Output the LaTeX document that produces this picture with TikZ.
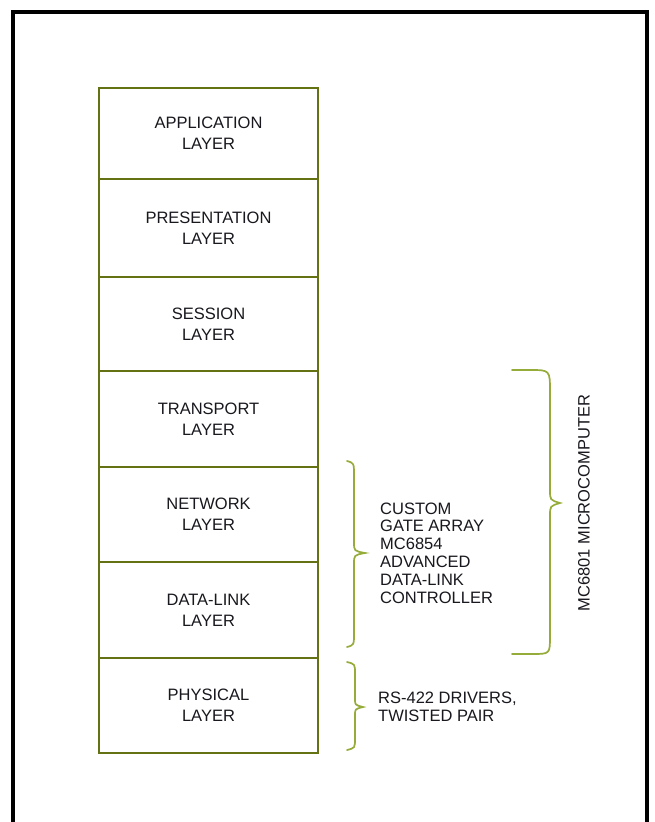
\documentclass[tikz,border=0pt]{standalone}
\usepackage{fontspec}
\setmainfont{Liberation Sans}
\usetikzlibrary{positioning}
\definecolor{layerolive}{RGB}{100,114,20}
\definecolor{braceolive}{RGB}{150,172,58}
\definecolor{inkgray}{RGB}{24,24,30}
\tikzset{
  layerbox/.style={draw=layerolive, line width=2.8pt, minimum width=219pt,
    inner sep=0pt, align=center, text=inkgray, font=\fontsize{16.5}{21}\selectfont},
  notetext/.style={text=inkgray, align=left, inner sep=0pt,
    font=\fontsize{16.5}{17.8}\selectfont},
  bracepath/.style={draw=braceolive, line width=1.7pt, line cap=round}
}
\begin{document}
\begin{tikzpicture}[x=1pt,y=-1pt]
  \useasboundingbox (0,0) rectangle (655,822);
  \fill[white] (0,0) rectangle (655,822);
  % outer frame, open at the bottom
  \draw[line width=3.4pt] (13,830) -- (13,12) -- (647,12) -- (647,830);
  % the seven layers
  \foreach \name/\top/\bot/\lab in {app/88/179/{APPLICATION\\LAYER},
      pres/179/277/{PRESENTATION\\LAYER}, sess/277/371/{SESSION\\LAYER},
      trans/371/467/{TRANSPORT\\LAYER}, net/467/562/{NETWORK\\LAYER},
      dlink/562/658/{DATA-LINK\\LAYER}, phys/658/753/{PHYSICAL\\LAYER}} {
    \pgfmathsetmacro\rowh{\bot-\top}
    \pgfmathsetmacro\rowc{(\top+\bot)/2}
    \node[layerbox, minimum height=\rowh pt] (\name) at (208.5,\rowc) {\lab};
  }
  % braces
  \coordinate (tipA) at (365,553);
  \coordinate (tipB) at (560,503);
  \coordinate (tipC) at (363,707);
  \draw[bracepath] (347,461) .. controls (354,463) .. (354,476) -- (354,542)
    .. controls (354,551) .. (tipA) .. controls (354,555) .. (354,564)
    -- (354,633) .. controls (354,645) .. (347,647);
  \draw[bracepath] (512,370) -- (530,370) .. controls (550,370) .. (550,392)
    -- (550,490) .. controls (550,500) .. (tipB) .. controls (550,506) .. (550,516)
    -- (550,636) .. controls (550,654) .. (532,654) -- (512,654);
  \draw[bracepath] (347,662) .. controls (355,664) .. (355,674) -- (355,699)
    .. controls (355,705) .. (tipC) .. controls (355,709) .. (355,715)
    -- (355,738) .. controls (355,748) .. (347,750);
  % notes
  \node[notetext, right=15pt of tipA] (adlc) {CUSTOM\\GATE ARRAY\\MC6854\\ADVANCED\\DATA-LINK\\CONTROLLER};
  \node[notetext, rotate=90, right=18pt of tipB, anchor=north] (mcu) {MC6801 MICROCOMPUTER};
  \node[notetext, right=15pt of tipC] (drv) {RS-422 DRIVERS,\\TWISTED PAIR};
\end{tikzpicture}
\end{document}
